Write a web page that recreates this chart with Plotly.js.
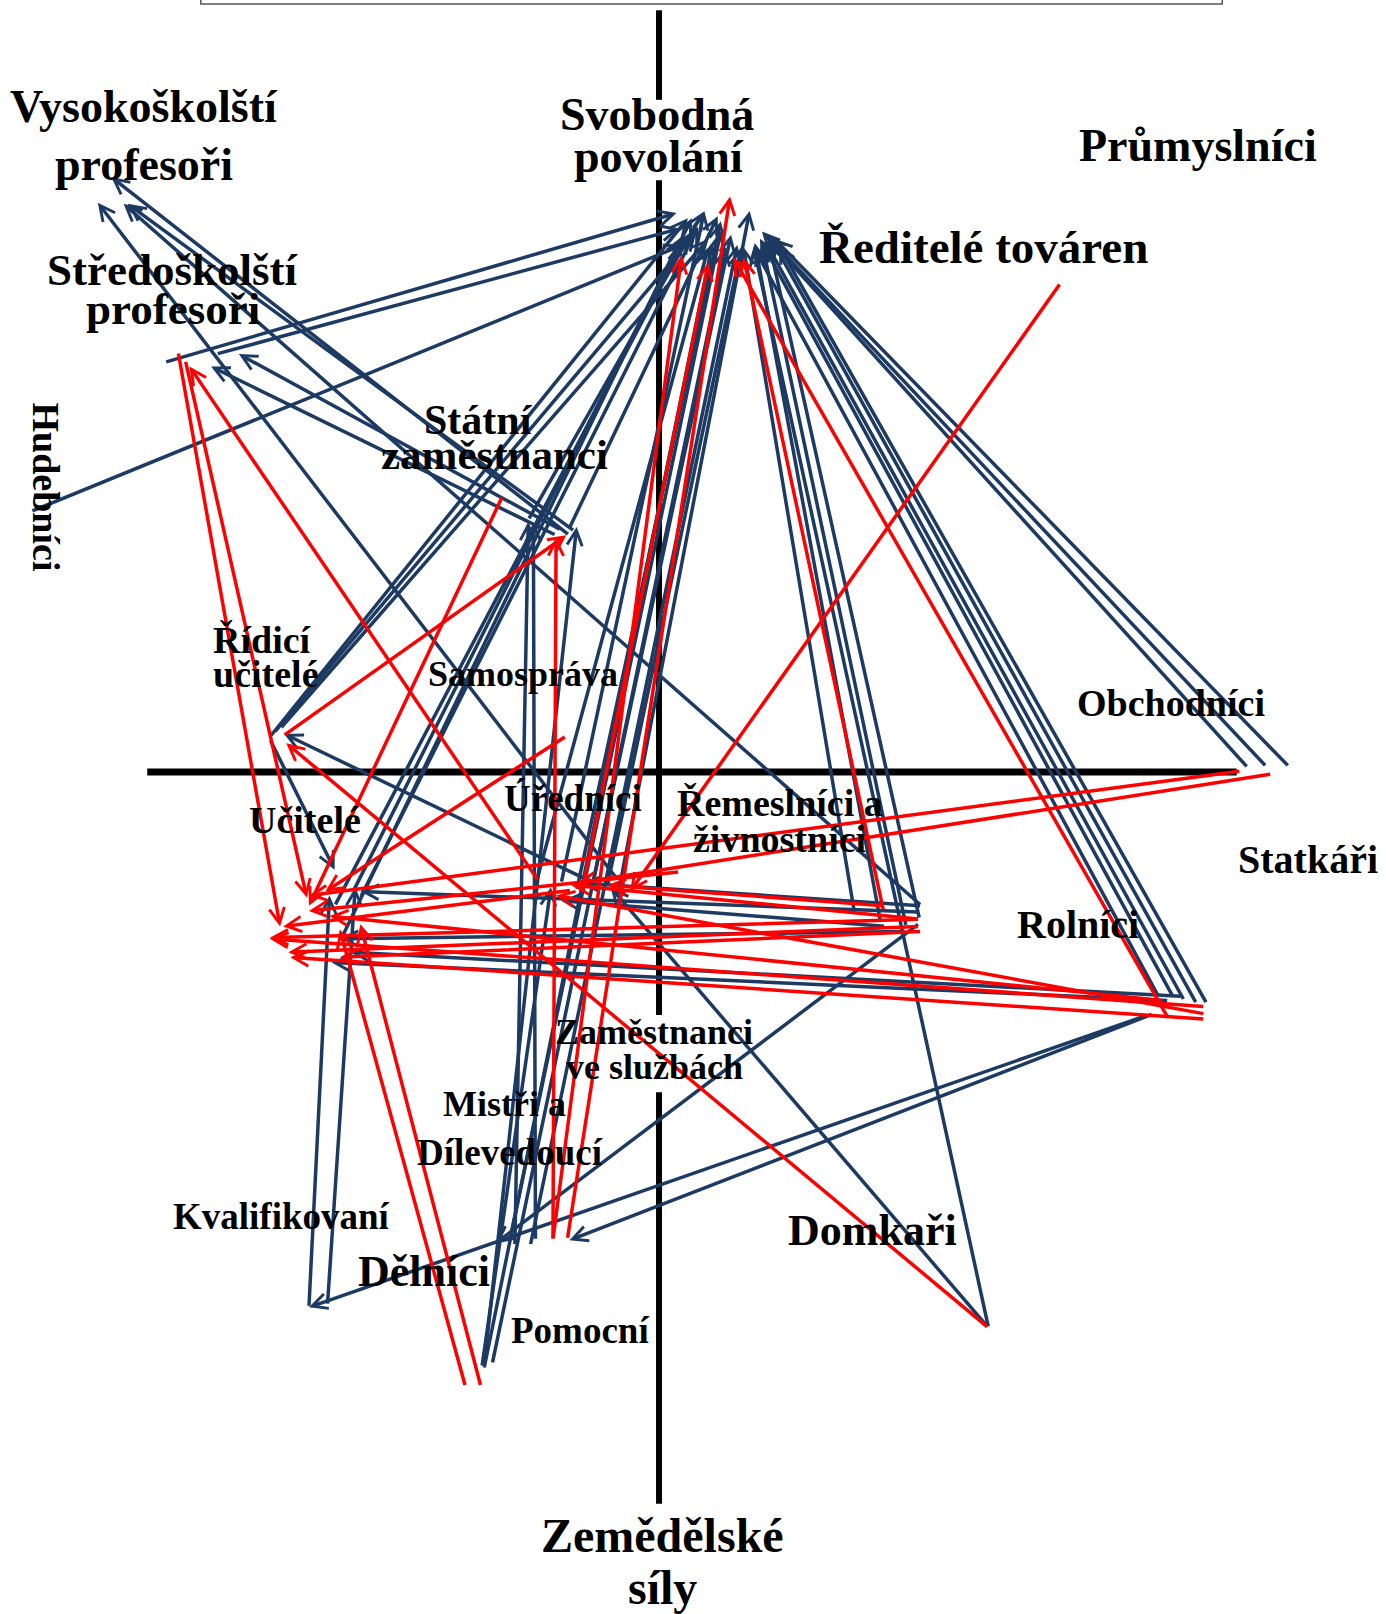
<!DOCTYPE html>
<html><head><meta charset="utf-8">
<script src="https://cdn.plot.ly/plotly-3.0.1.min.js"></script>
<style>html,body{margin:0;padding:0;background:#fff;}#chart{width:1386px;height:1614px;}</style>
</head><body><div id="chart"></div>
<script>
// ---- DATA (map coordinates: origin at the crossing of the two dimensions) ----
// Navy flows: origin -> destination
const navyFromX = [-480,-430,-610,-378,-374,-368,-127,-87,-120,-95,-80,-65,-50,-40,-297,-170,-162,-145,-125,215,240,253,190,500,510,522,532,485,572,590,612,320,-310,-87,-82,-40,255,-95,-100,-140,-120,-170,-63,-378,-340,-322,253,240,495,508,220,475,480,253,-172,320,255,-290,-315];
const navyFromY = [398,406,253,34,38,42,245,237,-110,-108,-115,-112,-110,-120,-116,-580,-575,-455,-460,-145,-150,-143,-138,-220,-222,-225,-225,-218,4,5,5,-540,-165,230,234,-105,-130,235,230,-460,-455,-578,-108,32,-520,-518,-136,-155,-222,-218,-150,-236,-235,-147,-578,-540,-130,-122,-130];
const navyToX   = [17,20,23,28,36,48,43,57,48,44,60,70,80,88,32,52,65,60,76,93,100,106,82,98,104,110,116,92,100,106,112,92,22,-532,-516,-545,-520,-408,-435,-127,-122,-80,-364,-315,-320,-295,-290,-310,-318,-300,-95,-340,-87,-159,-105,-47,-75,38,28];
const navyToY   = [543,528,512,538,524,518,544,540,510,545,535,522,510,545,538,514,510,525,512,514,514,518,510,518,514,516,512,510,525,520,518,510,520,578,552,553,552,406,394,243,242,238,37,-95,-120,-112,-116,-162,-185,-175,-125,-520,-455,-458,-112,-112,-108,530,522];
// Red flows: origin -> destination
const redFromX = [390,-89,-103,495,218,-75,320,-365,-152,-103,-90,-117,-467,-460,-188,-173,565,595,253,253,530,530,490,253,220,20,530,255,-85];
const redFromY = [475,-454,-454,-240,-135,-118,-540,35,268,-455,35,-106,408,400,-597,-597,1,-2,-143,-150,-228,-240,-222,-143,-130,-97,-235,-155,-115];
const redToX   = [-28,69,22,72,82,48,-362,-90,-340,-100,-324,-456,-368,-342,-310,-290,-340,-80,-378,-360,-378,-358,-320,-85,-50,-340,-100,-310,-365];
const redToY   = [-116,559,502,500,500,495,28,230,-130,228,-116,394,-150,-122,-153,-148,-120,-108,-161,-175,-162,-180,-140,-110,-110,-135,-120,-180,-150];
// Occupational categories (label lines and their map positions)
const catLines = [
  "Vysokoškolští","profesoři","Svobodná","povolání","Průmyslníci","Ředitelé továren",
  "Středoškolští","profesoři","Hudebníci","Státní","zaměstnanci","Řídicí","učitelé",
  "Samospráva","Obchodníci","Úředníci","Řemeslníci a","živnostníci","Učitelé","Statkáři",
  "Rolníci","Zaměstnanci","ve službách","Mistři a","Dílevedoucí","Kvalifikovaní","Dělníci",
  "Domkaři","Pomocní","Zemědělské","síly"];
const catX = [-500,-500,-2,0,523,315,-472,-472,-595,-175,-160,-385,-382,-132,497,-84,117,117,-344,630,407,-5,-4,-150,-145,-367,-228,207,-77,3,3];
const catY = [647,590,639,598,609,510,488,450,277,342,308,128,95,95,67,-26,-30,-65,-47,-85,-148,-253,-287,-323,-370,-432,-485,-445,-543,-742,-792];

// ---- STYLE ----
const NAVY = '#1d3a63', RED = '#ff0000';
const catSize = [46,46,46,46,46,47, 45,45,38, 42,43, 38,38, 36,38,37,38,38,38,40,40,36,36,36,37,37,44,44,37,48,48];
const catAngle = catLines.map((t,i)=> i===8 ? 90 : 0);

const annotations = [];
function addFlows(fx,fy,tx,ty,color){
  for(let i=0;i<fx.length;i++){
    annotations.push({x:tx[i],y:ty[i],ax:fx[i],ay:fy[i],xref:'x',yref:'y',axref:'x',ayref:'y',
      text:'',showarrow:true,arrowhead:5,arrowsize:0.85,arrowwidth:3.5,arrowcolor:color,standoff:0});
  }
}
addFlows(navyFromX,navyFromY,navyToX,navyToY,NAVY);
addFlows(redFromX,redFromY,redToX,redToY,RED);
for(let i=0;i<catLines.length;i++){
  annotations.push({x:catX[i],y:catY[i],xref:'x',yref:'y',text:'<b>'+catLines[i]+'</b>',showarrow:false,
    textangle:catAngle[i],font:{family:'Liberation Serif, Times New Roman, serif',size:catSize[i],color:'#000'},
    xanchor:'center',yanchor:'middle'});
}

// axes of the map (horizontal and vertical dimension)
const hAxis = [-497,561];
const vAxisSegs = [[740,653],[575,-236],[-311,-711]];
const shapes = [
  {type:'rect',xref:'x',yref:'y',x0:-445,x1:547,y0:746,y1:790,line:{color:'#555',width:1.5},fillcolor:'rgba(0,0,0,0)'},
  {type:'line',xref:'x',yref:'y',x0:hAxis[0],x1:hAxis[1],y0:0,y1:0,line:{color:'#000',width:7}}
];
vAxisSegs.forEach(s=>shapes.push({type:'line',xref:'x',yref:'y',x0:0,x1:0,y0:s[0],y1:s[1],line:{color:'#000',width:6}}));

Plotly.newPlot('chart',[{x:[0],y:[0],mode:'markers',marker:{opacity:0},hoverinfo:'skip',showlegend:false}],{
  width:1386,height:1614,margin:{l:0,r:0,t:0,b:0},
  paper_bgcolor:'#fff',plot_bgcolor:'#fff',showlegend:false,
  xaxis:{range:[-640,706],visible:false,fixedrange:true},
  yaxis:{range:[-818,750],visible:false,fixedrange:true},
  shapes:shapes,annotations:annotations
},{staticPlot:true});
</script></body></html>
